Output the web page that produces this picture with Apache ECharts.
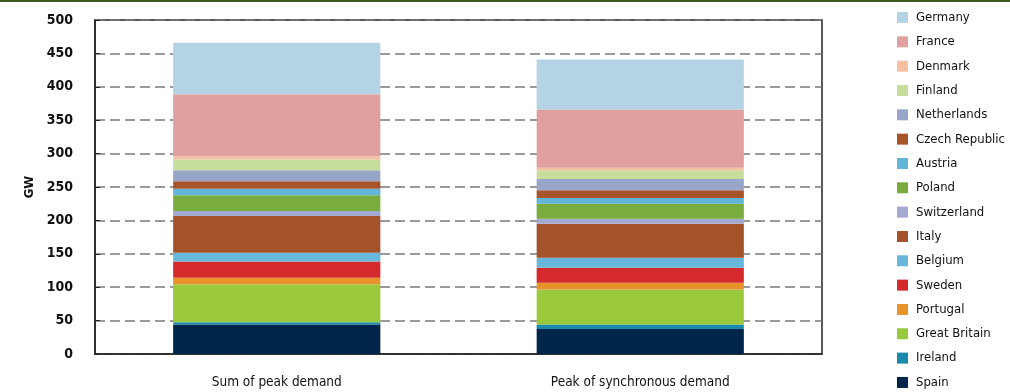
<!DOCTYPE html>
<html>
<head>
<meta charset="utf-8">
<script src="https://cdn.jsdelivr.net/npm/echarts@6/dist/echarts.min.js"></script>
<style>
  html, body { margin: 0; padding: 0; background: #fff; }
  #chart { width: 1010px; height: 392px; }
</style>
</head>
<body>
<div id="chart"></div>
<script>
// categories on the x axis
const categories = ['Sum of peak demand', 'Peak of synchronous demand']

// countries, bottom of the stack first
const countries = ['Spain', 'Ireland', 'Great Britain', 'Portugal', 'Sweden', 'Belgium', 'Italy',
  'Switzerland', 'Poland', 'Austria', 'Czech Republic', 'Netherlands', 'Finland', 'Denmark',
  'France', 'Germany']

// GW per country, [sum of peak, peak of synchronous]
const spain = [44, 37.5]
const ireland = [3.5, 6.5]
const greatBritain = [57, 52.5]
const portugal = [9.5, 10]
const sweden = [24.5, 22.5]
const belgium = [13, 15]
const italy = [55, 51]
const switzerland = [7.5, 7.5]
const poland = [23.5, 22.5]
const austria = [10, 8.5]
const czech = [11, 11.5]
const netherlands = [16.5, 17]
const finland = [16, 13]
const denmark = [5, 4]
const france = [93, 87]
const germany = [77, 75]

const values = [spain, ireland, greatBritain, portugal, sweden, belgium, italy, switzerland,
  poland, austria, czech, netherlands, finland, denmark, france, germany]

const colors = ['#00254a', '#1a8aaa', '#9ac93e', '#e8922a', '#d42a2c', '#67b8dc', '#a4522a',
  '#a3aad0', '#7aab3d', '#62b5d9', '#a8542a', '#97a5c9', '#c6dd9c', '#f4c0a0', '#e0a0a0', '#b4d4e6']

const yTicks = [0, 50, 100, 150, 200, 250, 300, 350, 400, 450, 500]

const font = '"DejaVu Sans Condensed", "Liberation Sans Narrow", "Noto Sans", sans-serif'

const chart = echarts.init(document.getElementById('chart'))

const series = countries.map((name, i) => ({
  name: name,
  type: 'bar',
  stack: 'total',
  barWidth: '57%',
  data: values[i],
  itemStyle: { color: colors[i] },
  emphasis: { disabled: true }
}))

const option = {
  animation: false,
  textStyle: { fontFamily: font },
  graphic: [
    {
      type: 'rect',
      shape: { x: 0, y: 0, width: 1010, height: 2 },
      style: { fill: '#3d5a1f' }
    }
  ],
  grid: {
    left: 95,
    top: 20,
    right: 188,
    bottom: 38,
    show: true,
    borderColor: '#222',
    borderWidth: 1.5
  },
  legend: {
    orient: 'vertical',
    left: 897,
    top: 11,
    padding: 0,
    itemWidth: 11,
    itemHeight: 11,
    itemGap: 11.33,
    icon: 'rect',
    data: countries.slice().reverse(),
    textStyle: { fontFamily: font, fontSize: 13, lineHeight: 13, color: '#111', padding: [0, 0, 0, 3] }
  },
  xAxis: {
    type: 'category',
    data: categories,
    axisLine: { lineStyle: { color: '#222', width: 1.5 } },
    axisTick: { inside: true, length: 5, lineStyle: { color: '#222' } },
    axisLabel: { fontFamily: font, fontSize: 13.5, color: '#111', margin: 21 }
  },
  yAxis: {
    type: 'value',
    min: yTicks[0],
    max: yTicks[yTicks.length - 1],
    interval: 50,
    name: 'GW',
    nameLocation: 'middle',
    nameGap: 58,
    nameTextStyle: { fontFamily: font, fontSize: 13, color: '#111', fontWeight: 'bold' },
    axisLine: { show: true, lineStyle: { color: '#222', width: 1.5 } },
    axisTick: { show: true, inside: true, length: 5, lineStyle: { color: '#222' } },
    axisLabel: { fontFamily: font, fontSize: 14, color: '#111', fontWeight: 'bold', margin: 22 },
    splitLine: { lineStyle: { color: '#7a7a7a', width: 1.5, type: [10, 5] } }
  },
  series: series
}

chart.setOption(option)
</script>
</body>
</html>
